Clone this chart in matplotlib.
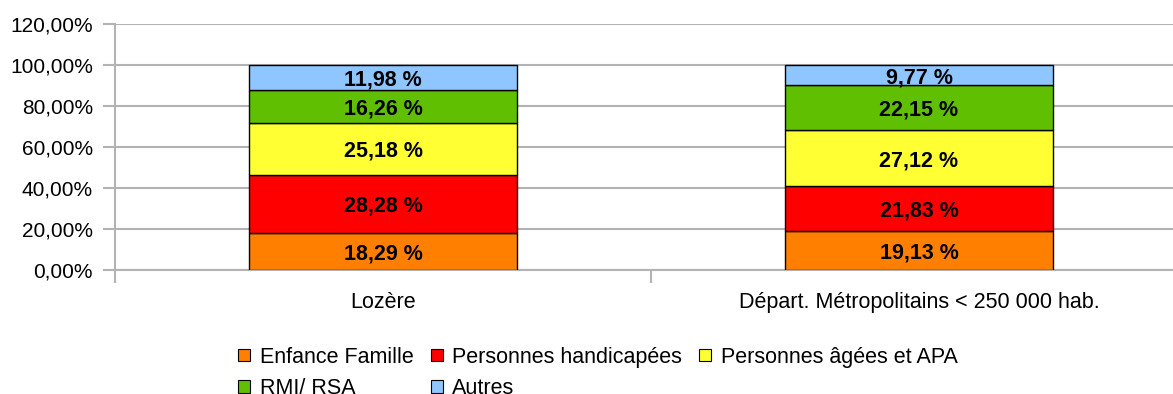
import matplotlib.pyplot as plt
from matplotlib.patches import Patch
from matplotlib.ticker import FuncFormatter, FixedLocator

plt.rcParams['font.family'] = ['Liberation Sans', 'DejaVu Sans']

categories = ['Lozère', 'Départ. Métropolitains < 250 000 hab.']
series_names = ['Enfance Famille', 'Personnes handicapées', 'Personnes âgées et APA',
                'RMI/ RSA', 'Autres']
enfance = [18.29, 19.13]
handicap = [28.28, 21.83]
agees = [25.18, 27.12]
rmi = [16.26, 22.15]
autres = [11.98, 9.77]
colors = ['#ff8000', '#ff0000', '#ffff33', '#60bf00', '#8fc6ff']

grid_col = '#b3b3b3'
fs = 15.5

fig = plt.figure(figsize=(11.73, 3.94), dpi=100)
ax = fig.add_axes([115 / 1173, 124 / 394, 1072 / 1173, 246 / 394])

x = list(range(len(categories)))
bottoms = [0.0] * len(categories)
for name, vals, col in zip(series_names, [enfance, handicap, agees, rmi, autres], colors):
    ax.bar(x, vals, width=0.5, bottom=bottoms, color=col, edgecolor='black',
           linewidth=1.0, zorder=3)
    for xi, v, b in zip(x, vals, bottoms):
        ax.text(xi, b + v / 2, f'{v:.2f} %'.replace('.', ','), ha='center',
                va='center_baseline', fontsize=fs, fontweight='bold', color='black', zorder=4)
    bottoms = [b + v for b, v in zip(bottoms, vals)]

ax.set_xlim(-0.5, 1.5)
ax.set_ylim(0, 120)
ax.set_yticks(range(0, 121, 20))
ax.yaxis.set_major_formatter(FuncFormatter(lambda v, p: f'{v:.2f}%'.replace('.', ',')))
ax.yaxis.grid(True, color=grid_col, linewidth=1.5, zorder=0)

# category boundaries get tick marks, labels sit in the middle
ax.xaxis.set_major_locator(FixedLocator([-0.5, 0.5, 1.5]))
ax.xaxis.set_minor_locator(FixedLocator(x))
ax.set_xticklabels([])
ax.set_xticks(x, minor=True)
ax.set_xticklabels(categories, minor=True)
ax.tick_params(axis='x', which='major', length=9, width=1.5, color=grid_col, direction='out')
ax.tick_params(axis='x', which='minor', length=0, pad=16, labelsize=fs)
ax.tick_params(axis='y', length=9, width=1.5, color=grid_col, pad=7, labelsize=15)

for s in ['top', 'right']:
    ax.spines[s].set_visible(False)
for s in ['left', 'bottom']:
    ax.spines[s].set_color(grid_col)
    ax.spines[s].set_linewidth(1.5)
ax.spines['left'].set_zorder(1)

handles = [Patch(facecolor=c, edgecolor='black', linewidth=0.8) for c in colors]
order = [0, 3, 1, 4, 2]
fig.legend([handles[i] for i in order], [series_names[i] for i in order],
           loc='center', bbox_to_anchor=(598 / 1173, 21 / 394), ncol=3, frameon=False,
           fontsize=fs, handlelength=0.55, handleheight=0.55, handletextpad=0.45,
           columnspacing=0.8, labelspacing=0.5)

fig.savefig('out.png', dpi=100)
